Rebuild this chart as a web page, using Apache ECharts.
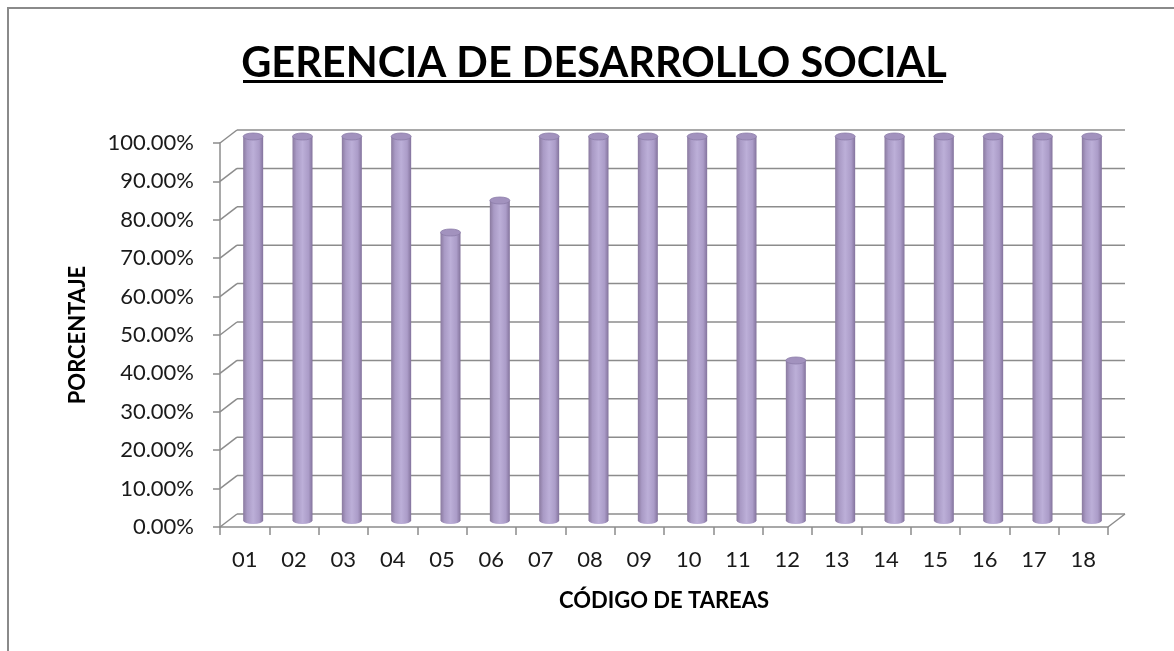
<!DOCTYPE html>
<html>
<head>
<meta charset="utf-8">
<title>Gerencia de Desarrollo Social</title>
<script src="https://cdn.jsdelivr.net/npm/echarts@6/dist/echarts.min.js"></script>
<style>
  html, body { margin: 0; padding: 0; background: #fff; }
  #chart { width: 1174px; height: 651px; }
</style>
</head>
<body>
<div id="chart"></div>
<script>
// task codes and completion percentage
const categories = ['01', '02', '03', '04', '05', '06', '07', '08', '09', '10', '11', '12', '13', '14', '15', '16', '17', '18']
const porcentajes = [100, 100, 100, 100, 75, 83.33, 100, 100, 100, 100, 100, 41.67, 100, 100, 100, 100, 100, 100]
const yTicks = [0, 10, 20, 30, 40, 50, 60, 70, 80, 90, 100]

const FONT = 'Lato, "Open Sans", sans-serif'
const GRID_COLOR = '#8c8c8c'
const DEPTH = [17, -13] // fake 3d offset of the back wall

const chart = echarts.init(document.getElementById('chart'))

function renderWall(params, api) {
  const cs = params.coordSys
  const p = api.coord([0, api.value(1)])
  const y = p[1]
  const x0 = cs.x
  const x1 = cs.x + cs.width
  const children = [
    { type: 'line', shape: { x1: x0, y1: y, x2: x0 + DEPTH[0], y2: y + DEPTH[1] }, style: { stroke: GRID_COLOR, lineWidth: 1.5 } },
    { type: 'line', shape: { x1: x0 + DEPTH[0], y1: y + DEPTH[1], x2: x1 + DEPTH[0], y2: y + DEPTH[1] }, style: { stroke: GRID_COLOR, lineWidth: 1.5 } },
  ]
  if (api.value(1) === 0) {
    children.push({ type: 'line', shape: { x1: x1, y1: y, x2: x1 + DEPTH[0], y2: y + DEPTH[1] }, style: { stroke: GRID_COLOR, lineWidth: 1.5 } })
  }
  return { type: 'group', children }
}

function renderCylinder(params, api) {
  const top = api.coord([api.value(0), api.value(1)])
  const base = api.coord([api.value(0), 0])
  const cx = top[0] + DEPTH[0] / 2
  const ty = top[1] + DEPTH[1] / 2
  const by = base[1] + DEPTH[1] / 2
  const rx = 10
  const ry = 3.5
  const l = cx - rx
  const r = cx + rx
  const body = `M${l},${ty} L${l},${by} A${rx},${ry} 0 0 0 ${r},${by} L${r},${ty} Z`
  const cap = `M${l},${ty} A${rx},${ry} 0 1 0 ${r},${ty} A${rx},${ry} 0 1 0 ${l},${ty} Z`
  return {
    type: 'group',
    children: [
      {
        type: 'path',
        shape: { pathData: body },
        style: {
          fill: new echarts.graphic.LinearGradient(0, 0, 1, 0, [
            { offset: 0, color: '#8a7a9f' },
            { offset: 0.2, color: '#a99ac5' },
            { offset: 0.5, color: '#bcafd8' },
            { offset: 0.8, color: '#ab9cc8' },
            { offset: 1, color: '#83739c' },
          ]),
        },
      },
      {
        type: 'path',
        shape: { pathData: cap },
        style: { fill: '#a292be', stroke: '#8c7ca8', lineWidth: 0.8 },
      },
    ],
  }
}

chart.setOption({
  animation: false,
  title: {
    text: 'GERENCIA DE DESARROLLO SOCIAL',
    left: 589,
    top: 38,
    textAlign: 'center',
    textStyle: { fontFamily: FONT, fontWeight: 'bold', fontSize: 41.5, color: '#000' },
  },
  graphic: [
    { type: 'rect', shape: { x: 8, y: 8, width: 1200, height: 700 }, style: { fill: 'none', stroke: '#8a8a8a', lineWidth: 2 }, silent: true },
    { type: 'rect', shape: { x: 243, y: 80, width: 700, height: 3 }, style: { fill: '#000' }, silent: true },
  ],
  grid: { left: 220, right: 66, top: 143, bottom: 124 },
  xAxis: {
    type: 'category',
    data: categories,
    name: 'CÓDIGO DE TAREAS',
    nameLocation: 'middle',
    nameGap: 63,
    nameTextStyle: { fontFamily: FONT, fontWeight: 'bold', fontSize: 22, color: '#000' },
    axisLine: { lineStyle: { color: GRID_COLOR, width: 1.5 } },
    axisTick: { show: true, length: 8, lineStyle: { color: GRID_COLOR, width: 1.5 } },
    axisLabel: { margin: 22, fontFamily: FONT, fontSize: 22, color: '#1a1a1a' },
    splitLine: { show: false },
  },
  yAxis: {
    type: 'value',
    min: 0,
    max: 100,
    interval: 10,
    name: 'PORCENTAJE',
    nameLocation: 'middle',
    nameRotate: 90,
    nameGap: 131,
    nameTextStyle: { fontFamily: FONT, fontWeight: 'bold', fontSize: 22, color: '#000' },
    axisLine: { show: true, lineStyle: { color: GRID_COLOR, width: 1.5 } },
    axisTick: { show: true, length: 7, lineStyle: { color: GRID_COLOR, width: 1.5 } },
    axisLabel: {
      margin: 26,
      fontFamily: FONT,
      fontSize: 22,
      color: '#1a1a1a',
      formatter: (v) => v.toFixed(2) + '%',
    },
    splitLine: { show: false },
  },
  series: [
    {
      type: 'custom',
      name: 'paredes',
      silent: true,
      z: 1,
      renderItem: renderWall,
      data: yTicks.map((t) => [0, t]),
      encode: { x: 0, y: 1 },
    },
    {
      type: 'custom',
      name: 'Porcentaje',
      z: 3,
      renderItem: renderCylinder,
      data: porcentajes.map((v, i) => [i, v]),
      encode: { x: 0, y: 1 },
    },
  ],
})

window.addEventListener('resize', () => chart.resize())
</script>
</body>
</html>
